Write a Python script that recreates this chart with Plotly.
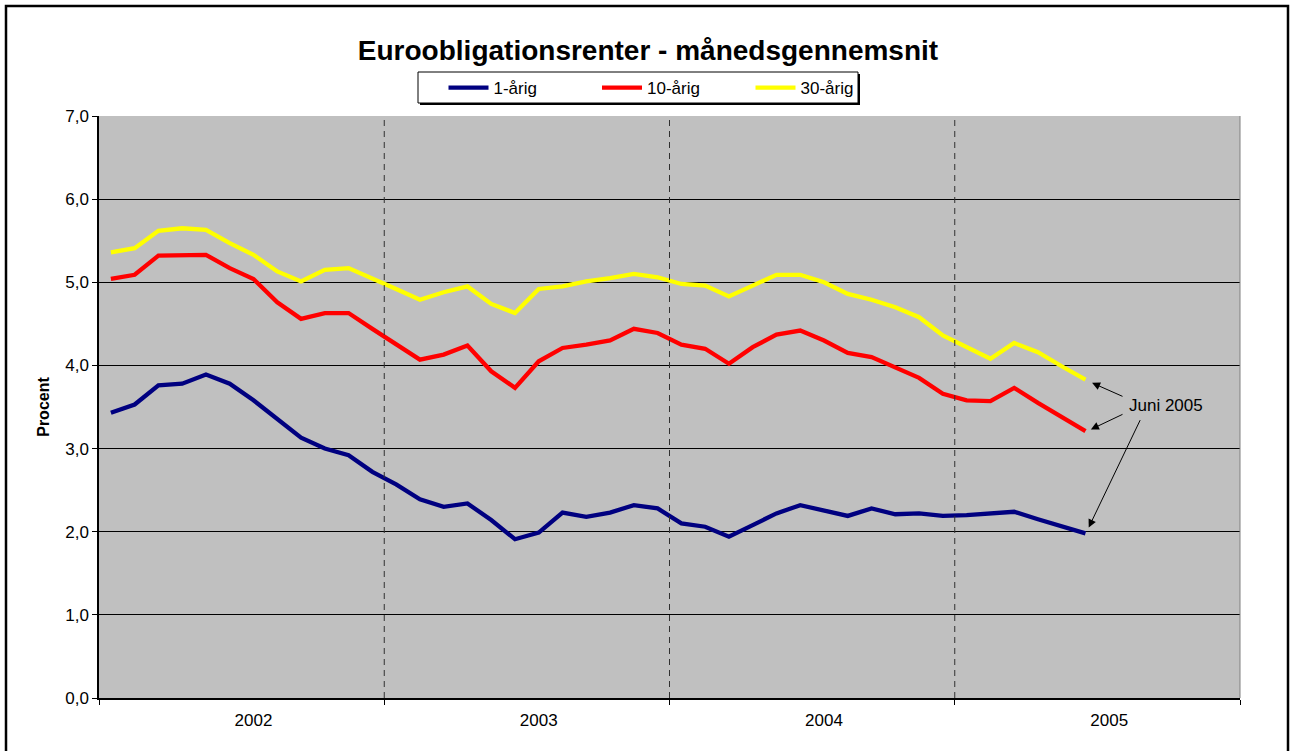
import plotly.graph_objects as go

months = [f"{y}-{m:02d}" for y in (2002, 2003, 2004, 2005) for m in range(1, 13)][:42]
years = ["2002", "2003", "2004", "2005"]

r1 = [3.43, 3.53, 3.76, 3.78, 3.89, 3.78, 3.58, 3.36, 3.13, 3.00, 2.92, 2.72,
      2.57, 2.39, 2.30, 2.34, 2.14, 1.91, 1.99, 2.23, 2.18, 2.23, 2.32, 2.28,
      2.10, 2.06, 1.94, 2.08, 2.22, 2.32, 2.26, 2.19, 2.28, 2.21, 2.22, 2.19,
      2.20, 2.22, 2.24, 2.15, 2.07, 1.98]
r10 = [5.04, 5.09, 5.32, 5.32, 5.33, 5.17, 5.04, 4.76, 4.56, 4.63, 4.63, 4.44,
       4.26, 4.07, 4.13, 4.24, 3.93, 3.73, 4.05, 4.21, 4.25, 4.30, 4.44, 4.39,
       4.25, 4.20, 4.02, 4.22, 4.37, 4.42, 4.30, 4.15, 4.10, 3.97, 3.85, 3.66,
       3.58, 3.57, 3.73, 3.55, 3.38, 3.21]
r30 = [5.36, 5.41, 5.62, 5.65, 5.63, 5.47, 5.33, 5.13, 5.01, 5.15, 5.17, 5.05,
       4.92, 4.79, 4.88, 4.95, 4.74, 4.63, 4.92, 4.95, 5.01, 5.05, 5.10, 5.06,
       4.98, 4.96, 4.83, 4.96, 5.09, 5.09, 5.00, 4.86, 4.79, 4.70, 4.58, 4.36,
       4.22, 4.08, 4.27, 4.16, 3.99, 3.83]
y_ticks = [0, 1, 2, 3, 4, 5, 6, 7]
y_ticktext = ["0,0", "1,0", "2,0", "3,0", "4,0", "5,0", "6,0", "7,0"]

x = list(range(len(months)))
FONT = "Liberation Sans, Arial, sans-serif"

PL, PR, PT, PB = 99, 1240, 116, 698
PW, PH = PR - PL, PB - PT


def px(xp):
    return (xp - PL) / PW


def py(yp):
    return (PB - yp) / PH


fig = go.Figure()
for name, vals, col in [("1-årig", r1, "#000080"), ("10-årig", r10, "#FF0000"), ("30-årig", r30, "#FFFF00")]:
    fig.add_trace(go.Scatter(x=x, y=vals, mode="lines", name=name,
                             line=dict(color=col, width=4.3), hoverinfo="skip"))

shapes = []
for b in (11.5, 23.5, 35.5):
    shapes.append(dict(type="line", xref="x", yref="y", x0=b, x1=b, y0=0, y1=7,
                       line=dict(color="#303030", width=1, dash="6px,5px"), layer="above"))
shapes.append(dict(type="line", xref="paper", yref="paper", x0=1, x1=1, y0=0, y1=1,
                   line=dict(color="#808080", width=1)))
shapes.append(dict(type="rect", xref="paper", yref="paper",
                   x0=px(6), x1=px(1288), y0=py(760), y1=py(6),
                   line=dict(color="black", width=2.5), fillcolor="rgba(0,0,0,0)"))
shapes.append(dict(type="rect", xref="paper", yref="paper",
                   x0=px(420), x1=px(860), y0=py(105), y1=py(74),
                   line=dict(width=0), fillcolor="black"))
shapes.append(dict(type="rect", xref="paper", yref="paper",
                   x0=px(418), x1=px(858), y0=py(103), y1=py(72),
                   line=dict(color="black", width=1), fillcolor="white"))

annotations = [
    dict(x=44.4, y=3.52, xref="x", yref="y", text="Juni 2005", showarrow=False,
         font=dict(family=FONT, size=17, color="black")),
]
for hx, hy, tx, ty in [(41.2, 3.80, 42.62, 3.62), (41.15, 3.22, 42.62, 3.42), (41.1, 2.03, 43.33, 3.36)]:
    annotations.append(dict(x=hx, y=hy, ax=tx, ay=ty, xref="x", yref="y", axref="x", ayref="y",
                            text="", showarrow=True, arrowhead=2, arrowsize=1.6,
                            arrowwidth=1, arrowcolor="black", standoff=2))

fig.update_layout(
    width=1290, height=751,
    margin=dict(l=PL, r=1290 - PR, t=PT, b=751 - PB),
    paper_bgcolor="white",
    plot_bgcolor="#C0C0C0",
    font=dict(family=FONT, size=17, color="black"),
    title=dict(text="<b>Euroobligationsrenter - månedsgennemsnit</b>",
               x=648 / 1290, xanchor="center", y=1 - 50 / 751, yanchor="middle",
               font=dict(family=FONT, size=28, color="black")),
    showlegend=True,
    legend=dict(orientation="h", x=px(443.5), xanchor="left",
                y=py(88), yanchor="middle",
                bgcolor="rgba(0,0,0,0)", borderwidth=0,
                font=dict(family=FONT, size=17, color="black"),
                entrywidth=98.5, entrywidthmode="pixels",
                itemwidth=40, tracegroupgap=0),
    xaxis=dict(range=[-0.5, 47.5], tickvals=[6.0, 18.0, 30.0, 42.0], ticktext=years,
               ticks="", showgrid=False, zeroline=False,
               showline=True, linecolor="black", linewidth=1.5,
               ticklabelstandoff=6,
               tickfont=dict(family=FONT, size=17, color="black"),
               minor=dict(tickvals=[-0.5, 11.5, 23.5, 35.5, 47.5], ticks="outside",
                          ticklen=5, tickcolor="black", showgrid=False)),
    yaxis=dict(range=[0, 7], tickvals=y_ticks, ticktext=y_ticktext,
               ticks="outside", ticklen=5, tickcolor="black",
               showgrid=True, gridcolor="black", gridwidth=1, zeroline=False,
               showline=True, linecolor="black", linewidth=1.5,
               tickfont=dict(family=FONT, size=17, color="black"),
               title=dict(text="<b>Procent</b>", standoff=12,
                          font=dict(family=FONT, size=16, color="black"))),
    shapes=shapes,
    annotations=annotations,
)

fig.write_html("out.html", config={"displayModeBar": False},
               post_script="document.body.style.margin='0px';")
